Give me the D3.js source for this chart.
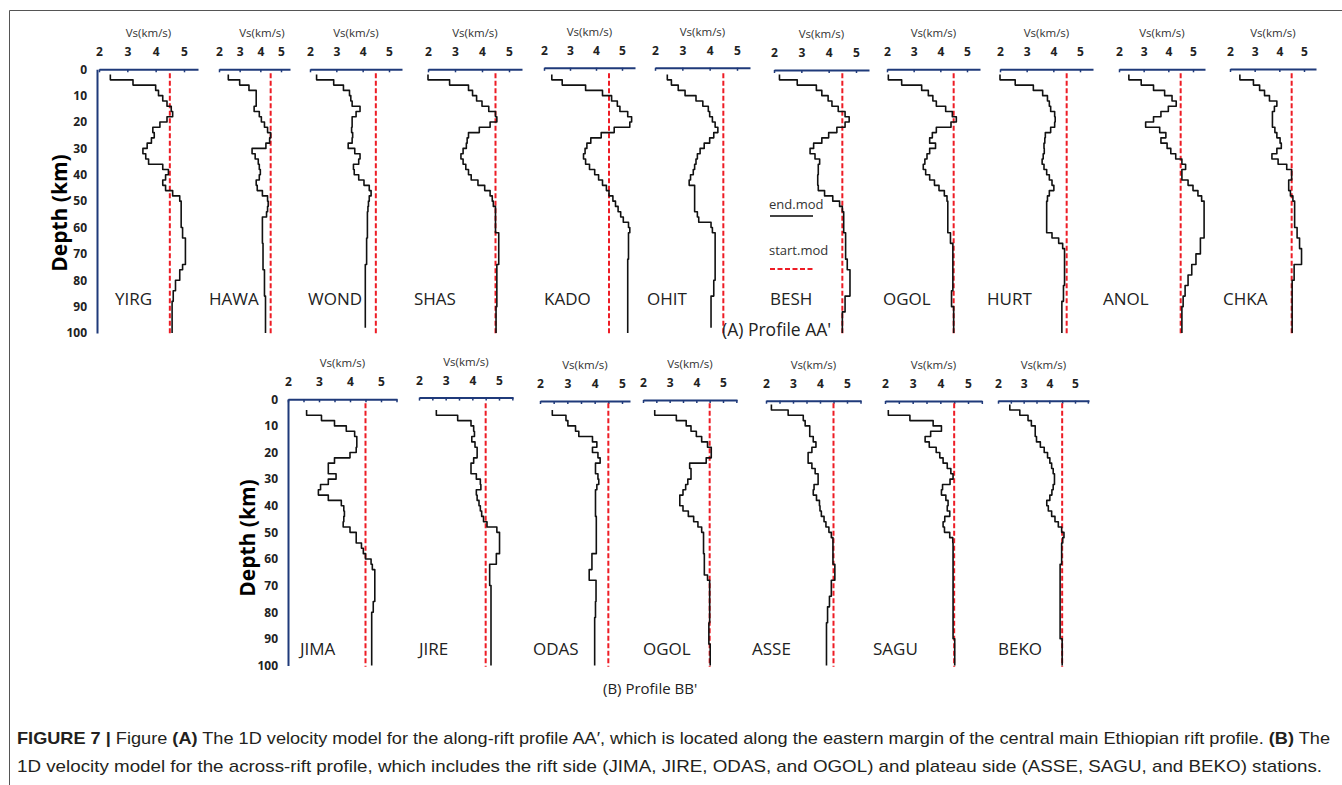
<!DOCTYPE html>
<html>
<head>
<meta charset="utf-8">
<script src="https://d3js.org/d3.v7.min.js"></script>
<style>
  body { margin: 0; background: #fff; }
  svg { display: block; }
  .tick text { font-family: "Open Sans", sans-serif; font-weight: bold; font-size: 12px; fill: #222; }
</style>
</head>
<body>
<div id="fig"></div>
<script>
// layer tops (km); each layer is 2 km thick, last one ends at 100 km
var layerTops = [2,4,6,8,10,12,14,16,18,20,22,24,26,28,30,32,34,36,38,40,42,44,46,48,
  50,52,54,56,58,60,62,64,66,68,70,72,74,76,78,80,82,84,86,88,90,92,94,96,98];
var maxDepth = 100;
var startModelVs = 4.5;

// Vs (km/s) per layer (end.mod)
var YIRG = [2.4,3.2,4.0,4.1,4.25,4.4,4.55,4.6,4.4,4.15,3.9,3.95,3.85,3.7,3.55,3.65,3.75,4.25,4.45,4.35,4.25,4.35,4.6,4.85,
  4.9,4.9,4.9,4.9,4.9,4.95,4.95,5.05,5.05,5.05,5.05,5.05,4.95,4.85,4.85,4.7,4.7,4.62,4.62,4.58,4.58,4.58,4.58,4.58,4.58];
var HAWA = [2.45,3.0,3.45,3.8,3.8,3.8,3.7,3.95,4.05,4.2,4.35,4.5,4.45,4.27,3.6,3.75,3.9,3.95,4.0,3.95,3.8,3.85,4.1,4.35,
  4.38,4.35,4.3,4.1,4.1,4.1,4.1,4.1,4.13,4.13,4.13,4.13,4.13,4.2,4.2,4.2,4.2,4.2,4.25,4.25,4.25,4.25,4.25,4.25,4.25];
var WOND = [2.25,2.9,3.27,3.5,3.55,3.6,3.9,3.75,3.6,3.6,3.58,3.62,3.6,3.45,3.7,3.9,3.85,3.65,3.68,3.85,4.05,4.25,4.32,4.25,
  4.22,4.2,4.18,4.18,4.18,4.18,4.18,4.15,4.15,4.15,4.15,4.15,4.1,4.1,4.1,4.1,4.1,4.1,4.1,4.1,4.1,4.1,4.1,4.1,null];
var SHAS = [2.0,2.8,3.5,3.65,3.8,4.0,4.25,4.5,4.55,4.3,3.9,3.5,3.45,3.42,3.3,3.22,3.3,3.4,3.5,3.6,3.85,4.1,4.3,4.38,
  4.42,4.5,4.5,4.5,4.5,4.5,4.62,4.62,4.62,4.62,4.62,4.62,4.55,4.55,4.55,4.55,4.55,4.55,4.55,4.55,4.52,4.52,4.52,4.52,4.52];
var KADO = [2.3,2.7,3.6,4.25,4.6,4.82,4.92,5.22,5.37,5.3,4.7,4.2,3.8,3.65,3.58,3.52,3.6,3.75,3.95,4.1,4.25,4.4,4.5,4.65,
  4.75,4.85,4.95,5.05,5.25,5.3,5.25,5.25,5.25,5.25,5.25,5.22,5.22,5.22,5.22,5.22,5.22,5.22,5.22,5.22,5.22,5.22,5.22,5.22,5.22];
var OHIT = [2.45,2.6,2.85,3.1,3.5,3.75,3.95,4.0,4.1,4.2,4.3,4.15,4.0,3.8,3.65,3.55,3.5,3.45,3.4,3.3,3.25,3.45,3.45,3.45,
  3.45,3.45,3.55,3.6,4.05,4.1,4.2,4.2,4.2,4.2,4.2,4.2,4.2,4.2,4.2,4.15,4.15,4.15,4.05,4.05,4.05,4.05,4.05,4.05,null];
var BESH = [2.2,2.85,3.55,3.75,3.98,4.12,4.35,4.6,4.75,4.6,4.3,4.0,3.75,3.45,3.32,3.5,3.67,3.62,3.62,3.6,3.6,3.62,3.85,4.15,
  4.4,4.5,4.55,4.55,4.55,4.55,4.62,4.62,4.62,4.62,4.62,4.68,4.68,4.78,4.78,4.78,4.78,4.78,4.6,4.6,4.6,4.5,4.5,4.5,4.5];
var OGOL_A = [2.05,2.55,3.3,3.55,3.72,3.85,4.2,4.45,4.6,4.4,3.85,3.7,3.6,3.82,3.6,3.5,3.42,3.36,3.45,3.6,3.78,3.95,4.15,4.25,
  4.28,4.28,4.28,4.28,4.28,4.28,4.38,4.38,4.47,4.47,4.47,4.47,4.47,4.47,4.47,4.47,4.47,4.42,4.42,4.42,4.5,4.5,4.5,4.5,4.5];
var HURT = [2.0,2.57,3.25,3.6,3.78,3.85,3.9,4.05,4.07,4.05,3.9,3.7,3.68,3.65,3.66,3.62,3.58,3.65,3.75,3.85,3.95,4.02,3.85,3.78,
  3.75,3.75,3.75,3.75,3.75,3.75,3.95,4.2,4.35,4.42,4.42,4.42,4.42,4.42,4.42,4.42,4.38,4.38,4.38,4.32,4.32,4.32,4.32,4.32,4.32];
var ANOL = [2.4,2.9,3.4,3.85,4.15,4.32,4.0,3.7,3.4,3.08,3.65,3.9,3.7,3.95,4.1,4.3,4.55,4.7,4.55,4.55,4.8,5.0,5.2,5.35,
  5.45,5.45,5.45,5.45,5.45,5.45,5.45,5.3,5.3,5.3,5.12,5.12,4.95,4.95,4.8,4.8,4.68,4.68,4.6,4.6,4.55,4.55,4.55,4.55,4.55];
var CHKA = [2.4,2.95,3.2,3.4,3.6,3.9,3.8,3.72,3.72,3.72,3.82,3.9,4.03,4.08,3.9,3.7,3.95,4.3,4.5,4.5,4.38,4.38,4.45,4.55,
  4.62,4.62,4.62,4.62,4.62,4.72,4.72,4.82,4.82,4.9,4.9,4.9,4.6,4.6,4.6,4.52,4.52,4.52,4.52,4.52,4.52,4.52,4.52,4.52,4.52];

var JIMA = [null,2.6,3.08,3.5,3.88,4.15,4.22,4.22,4.2,4.0,3.5,3.3,3.3,3.55,3.3,3.05,2.98,3.3,3.72,3.8,3.82,3.8,3.78,4.0,
  4.2,4.2,4.37,4.43,4.5,4.68,4.72,4.8,4.8,4.8,4.8,4.8,4.8,4.75,4.75,4.7,4.7,4.7,4.7,4.7,4.7,4.7,4.7,4.7,4.7];
var JIRE = [null,2.65,3.45,3.95,4.05,4.08,3.98,4.1,4.18,4.18,4.05,3.95,3.95,4.15,4.3,4.32,4.15,4.18,4.25,4.3,4.35,4.42,4.55,4.92,
  5.02,5.02,5.02,5.02,4.9,4.9,4.65,4.65,4.65,4.65,4.7,4.7,4.7,4.7,4.7,4.7,4.7,4.7,4.7,4.7,4.7,4.7,4.7,4.7,4.7];
var ODAS = [null,2.45,2.95,3.02,3.3,3.42,3.92,4.08,3.92,4.12,4.2,4.03,4.03,4.12,4.15,4.08,4.03,4.03,4.03,4.03,4.03,4.06,4.06,4.06,
  4.06,4.06,4.06,4.06,3.9,3.9,3.9,3.8,3.8,4.05,4.05,4.05,4.05,4.03,4.03,4.03,4.0,4.0,4.0,4.0,4.0,4.0,4.0,4.0,4.0];
var OGOL_B = [null,2.44,3.25,3.62,3.8,4.0,4.2,4.42,4.56,4.56,4.37,3.75,3.8,3.8,3.68,3.6,3.5,3.38,3.38,3.5,3.7,3.9,4.06,4.2,
  4.27,4.27,4.27,4.27,4.3,4.3,4.3,4.3,4.42,4.5,4.5,4.5,4.5,4.5,4.5,4.5,4.5,4.47,4.47,4.47,4.47,4.52,4.52,4.52,4.52];
var ASSE = [2.2,2.82,3.38,3.45,3.62,3.62,3.75,3.85,3.7,3.56,3.56,3.7,3.82,3.93,3.93,3.78,3.75,3.87,3.98,4.0,4.05,4.15,4.22,4.33,
  4.42,4.48,4.48,4.48,4.48,4.48,4.55,4.55,4.55,4.42,4.42,4.42,4.35,4.35,4.28,4.28,4.28,4.24,4.24,4.24,4.24,4.24,4.24,4.24,4.24];
var SAGU = [null,2.12,2.9,3.74,4.04,3.65,3.45,3.6,3.85,3.98,4.1,4.25,4.38,4.46,4.35,4.08,4.04,4.2,4.28,4.25,4.34,4.16,4.1,4.15,
  4.34,4.45,4.46,4.46,4.46,4.46,4.46,4.46,4.46,4.46,4.46,4.46,4.46,4.46,4.46,4.46,4.46,4.46,4.46,4.46,4.52,4.52,4.52,4.52,4.52];
var BEKO = [2.46,2.85,3.17,3.3,3.45,3.45,3.5,3.65,3.8,3.93,4.02,4.09,4.15,4.2,4.2,4.15,4.1,4.02,3.9,3.96,4.09,4.22,4.35,4.48,
  4.57,4.52,4.48,4.48,4.48,4.48,4.42,4.42,4.42,4.42,4.42,4.42,4.42,4.42,4.42,4.42,4.42,4.42,4.42,4.42,4.5,4.5,4.5,4.5,4.5];

var depthTicks = [0,10,20,30,40,50,60,70,80,90,100];

// layout: pixel of Vs=2, Vs=5, end of axis, axis y, station label x
var rowA = { top: 69.3, bottom: 333, yAxisX: 97, labelY: 305, titleX: 60, titleY: 213, minor: false };
var rowB = { top: 399.3, bottom: 665.4, yAxisX: 288, labelY: 655, titleX: 248, titleY: 538, minor: true };

var panelsA = [
  { name: "YIRG", vs: YIRG,   x2: 99,   x5: 184,  xEnd: 198,  ay: 69.3, lx: 115 },
  { name: "HAWA", vs: HAWA,   x2: 219,  x5: 281,  xEnd: 290,  ay: 69.3, lx: 209, vx: 262 },
  { name: "WOND", vs: WOND,   x2: 310,  x5: 389,  xEnd: 402,  ay: 69.3, lx: 308 },
  { name: "SHAS", vs: SHAS,   x2: 428,  x5: 509,  xEnd: 522,  ay: 69.3, lx: 414 },
  { name: "KADO", vs: KADO,   x2: 544,  x5: 622,  xEnd: 635,  ay: 67.8, lx: 544 },
  { name: "OHIT", vs: OHIT,   x2: 655,  x5: 737,  xEnd: 750,  ay: 67.8, lx: 647 },
  { name: "BESH", vs: BESH,   x2: 774,  x5: 856,  xEnd: 869,  ay: 70,   lx: 770 },
  { name: "OGOL", vs: OGOL_A, x2: 887,  x5: 967,  xEnd: 980,  ay: 69.3, lx: 883 },
  { name: "HURT", vs: HURT,   x2: 1000, x5: 1080, xEnd: 1093, ay: 69.3, lx: 987 },
  { name: "ANOL", vs: ANOL,   x2: 1119, x5: 1193, xEnd: 1205, ay: 69.3, lx: 1103 },
  { name: "CHKA", vs: CHKA,   x2: 1230, x5: 1304, xEnd: 1316, ay: 69,   lx: 1223 }
];
var panelsB = [
  { name: "JIMA", vs: JIMA,   x2: 288,  x5: 381,  xEnd: 397,  ay: 399.3, lx: 300 },
  { name: "JIRE", vs: JIRE,   x2: 419,  x5: 499,  xEnd: 513,  ay: 397.6, lx: 419 },
  { name: "ODAS", vs: ODAS,   x2: 540,  x5: 622,  xEnd: 630,  ay: 401,   lx: 533 },
  { name: "OGOL", vs: OGOL_B, x2: 643,  x5: 723,  xEnd: 737,  ay: 400,   lx: 643 },
  { name: "ASSE", vs: ASSE,   x2: 766,  x5: 847,  xEnd: 861,  ay: 400.7, lx: 752 },
  { name: "SAGU", vs: SAGU,   x2: 885,  x5: 968,  xEnd: 982,  ay: 401,   lx: 873 },
  { name: "BEKO", vs: BEKO,   x2: 998,  x5: 1075, xEnd: 1089, ay: 400.7, lx: 998 }
];

var navy = "#1f3a7a";
var font = "'Open Sans', sans-serif";

var svg = d3.select("#fig").append("svg")
  .attr("width", 1342).attr("height", 785)
  .style("background", "#fff");

// frame
svg.append("path").attr("d", "M9.5,785 V10.5 H1342")
  .attr("fill", "none").attr("stroke", "#555").attr("stroke-width", 1);

function drawRow(row, panels) {
  var y = d3.scaleLinear().domain([0, maxDepth]).range([row.top, row.bottom]);

  // depth axis
  var ya = svg.append("g").attr("transform", "translate(" + row.yAxisX + ",0)");
  ya.call(d3.axisLeft(y).tickValues(d3.range(0, 101, 2)).tickSize(3).tickFormat(""));
  ya.call(d3.axisLeft(y).tickValues(depthTicks).tickSize(0).tickPadding(10));
  ya.selectAll("path.domain").attr("stroke", navy).attr("stroke-width", 2);
  ya.selectAll(".tick line").attr("stroke", navy).attr("stroke-width", 1.2);

  svg.append("text")
    .attr("transform", "translate(" + row.titleX + "," + row.titleY + ") rotate(-90)")
    .attr("text-anchor", "middle").attr("dy", "0.35em")
    .style("font-family", font).style("font-weight", "bold").style("font-size", "21px")
    .text("Depth (km)");

  panels.forEach(function(p) {
    var x = d3.scaleLinear().domain([2, 5]).range([p.x2, p.x5]);
    var vEnd = x.invert(p.xEnd);
    var xa = x.copy().domain([2, vEnd]).range([p.x2, p.xEnd]);
    var ticks = row.minor ? [2, 2.5, 3, 3.5, 4, 4.5, 5, 5.5] : [2, 3, 4, 5];
    ticks = ticks.filter(function(t) { return t <= vEnd + 0.01; });

    var g = svg.append("g");
    var ax = g.append("g").attr("transform", "translate(0," + p.ay + ")")
      .call(d3.axisTop(xa).tickValues(ticks).tickSizeInner(-3).tickSizeOuter(0).tickPadding(13)
        .tickFormat(function(d) { return d % 1 === 0 ? d : ""; }));
    ax.select("path.domain").attr("stroke", navy).attr("stroke-width", 2);
    ax.selectAll(".tick line").attr("stroke", navy).attr("stroke-width", 1.5);

    g.append("text")
      .attr("x", p.vx || (p.x2 + p.xEnd) / 2).attr("y", p.ay - 32)
      .attr("text-anchor", "middle")
      .style("font-family", font).style("font-size", "11.5px").style("fill", "#333")
      .text("Vs(km/s)");

    // start model
    g.append("line")
      .attr("x1", x(startModelVs)).attr("x2", x(startModelVs))
      .attr("y1", y(1.5)).attr("y2", y(100.5))
      .attr("stroke", "#ee1c25").attr("stroke-width", 2).attr("stroke-dasharray", "5,2.5");

    // end model as a step profile
    var pts = [];
    layerTops.forEach(function(top, i) {
      var v = p.vs[i];
      if (v == null) return;
      var bot = i < layerTops.length - 1 ? layerTops[i + 1] : maxDepth;
      pts.push([v, top], [v, bot]);
    });
    var line = d3.line().x(function(d) { return x(d[0]); }).y(function(d) { return y(d[1]); });
    g.append("path").attr("d", line(pts))
      .attr("fill", "none").attr("stroke", "#111").attr("stroke-width", 1.6)
      .attr("stroke-linejoin", "round");

    g.append("text")
      .attr("x", p.lx).attr("y", row.labelY)
      .style("font-family", font).style("font-size", "17px").style("fill", "#222")
      .text(p.name);
  });
}

drawRow(rowA, panelsA);
drawRow(rowB, panelsB);

// legend
svg.append("text").attr("x", 769).attr("y", 209)
  .style("font-family", font).style("font-size", "13px").style("fill", "#333").text("end.mod");
svg.append("line").attr("x1", 770).attr("x2", 813).attr("y1", 216).attr("y2", 216)
  .attr("stroke", "#444").attr("stroke-width", 2);
svg.append("text").attr("x", 769).attr("y", 255)
  .style("font-family", font).style("font-size", "13px").style("fill", "#333").text("start.mod");
svg.append("line").attr("x1", 770).attr("x2", 813).attr("y1", 269).attr("y2", 269)
  .attr("stroke", "#ee1c25").attr("stroke-width", 2).attr("stroke-dasharray", "5,2.5");

svg.append("text").attr("x", 722).attr("y", 336)
  .style("font-family", font).style("font-size", "17.5px").style("fill", "#222").text("(A) Profile AA'");
svg.append("text").attr("x", 603).attr("y", 694)
  .style("font-family", font).style("font-size", "15px").style("fill", "#222").text("(B) Profile BB'");

// caption
var capFont = "'Liberation Sans', Arial, sans-serif";
var c1 = svg.append("text").attr("x", 17).attr("y", 744)
  .attr("textLength", 1313).attr("lengthAdjust", "spacingAndGlyphs")
  .style("font-family", capFont).style("font-size", "17px").style("fill", "#231f20");
c1.append("tspan").style("font-weight", "bold").text("FIGURE 7 | ");
c1.append("tspan").text("Figure ");
c1.append("tspan").style("font-weight", "bold").text("(A)");
c1.append("tspan").text(" The 1D velocity model for the along-rift profile AA\u2032, which is located along the eastern margin of the central main Ethiopian rift profile. ");
c1.append("tspan").style("font-weight", "bold").text("(B)");
c1.append("tspan").text(" The");
svg.append("text").attr("x", 17).attr("y", 772)
  .attr("textLength", 1305).attr("lengthAdjust", "spacingAndGlyphs")
  .style("font-family", capFont).style("font-size", "17px").style("fill", "#231f20")
  .text("1D velocity model for the across-rift profile, which includes the rift side (JIMA, JIRE, ODAS, and OGOL) and plateau side (ASSE, SAGU, and BEKO) stations.");
</script>
</body>
</html>
